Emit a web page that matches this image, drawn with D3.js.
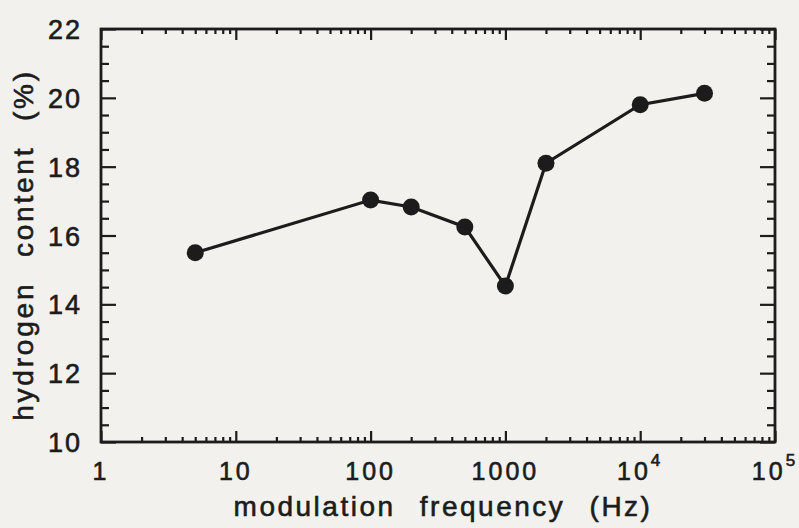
<html>
<head>
<script src="https://cdn.jsdelivr.net/npm/d3@7"></script>
<style>
  body { margin: 0; background: #f2f1ed; }
  text { font-family: "Liberation Sans", Arial, sans-serif; fill: #1c1c1c; stroke: #1c1c1c; stroke-width: 0.6px; }
</style>
</head>
<body>
<svg width="799" height="528"></svg>
<script>
// measured points
var freq = [5, 100, 200, 500, 1000, 2000, 10000, 30000];
var hydrogen = [15.5, 17.03, 16.83, 16.25, 14.53, 18.1, 19.8, 20.13];

var yTicks = [10, 12, 14, 16, 18, 20, 22];
var xTicks = [1, 10, 100, 1000, 10000, 100000];
var xTickLabels = [["1", ""], ["10", ""], ["100", ""], ["1000", ""], ["10", "4"], ["10", "5"]];

var svg = d3.select("svg");
var mLeft = 101, mRight = 775, mTop = 29, mBottom = 442;

var x = d3.scaleLog().domain([1, 1e5]).range([mLeft, mRight]);
var y = d3.scaleLinear().domain([10, 22]).range([mBottom, mTop]);

// minor ticks
var xMinor = [];
for (var dec = 1; dec < 1e5; dec *= 10)
  for (var k = 2; k < 10; k++) xMinor.push(dec * k);
var yMinor = d3.range(10, 22.01, 0.5).filter(function (v) { return v % 2 != 0; });

// frame
svg.append("rect")
  .attr("x", mLeft).attr("y", mTop)
  .attr("width", mRight - mLeft).attr("height", mBottom - mTop)
  .attr("fill", "none").attr("stroke", "#1c1c1c").attr("stroke-width", 2.8);

function ticks(g) {
  g.select(".domain").remove();
  g.selectAll("line").attr("stroke", "#1c1c1c").attr("stroke-width", 2.2);
}

// bottom / top
svg.append("g").attr("transform", "translate(0," + mBottom + ")")
  .call(d3.axisBottom(x).tickValues(xTicks).tickSize(-11).tickFormat("")).call(ticks);
svg.append("g").attr("transform", "translate(0," + mBottom + ")")
  .call(d3.axisBottom(x).tickValues(xMinor).tickSize(-5).tickFormat("")).call(ticks);
svg.append("g").attr("transform", "translate(0," + mTop + ")")
  .call(d3.axisTop(x).tickValues(xTicks).tickSize(-11).tickFormat("")).call(ticks);
svg.append("g").attr("transform", "translate(0," + mTop + ")")
  .call(d3.axisTop(x).tickValues(xMinor).tickSize(-5).tickFormat("")).call(ticks);

// left / right
svg.append("g").attr("transform", "translate(" + mLeft + ",0)")
  .call(d3.axisLeft(y).tickValues(yTicks).tickSize(-15).tickFormat("")).call(ticks);
svg.append("g").attr("transform", "translate(" + mLeft + ",0)")
  .call(d3.axisLeft(y).tickValues(yMinor).tickSize(-8).tickFormat("")).call(ticks);
svg.append("g").attr("transform", "translate(" + mRight + ",0)")
  .call(d3.axisRight(y).tickValues(yTicks).tickSize(-15).tickFormat("")).call(ticks);
svg.append("g").attr("transform", "translate(" + mRight + ",0)")
  .call(d3.axisRight(y).tickValues(yMinor).tickSize(-8).tickFormat("")).call(ticks);

// y tick labels
svg.selectAll(".ylab").data(yTicks).enter().append("text")
  .attr("x", 82).attr("y", function (d) { return y(d) + 10; })
  .attr("text-anchor", "end").style("font-size", "27px")
  .style("letter-spacing", "2px")
  .text(function (d) { return d; });

// x tick labels
var xl = svg.selectAll(".xlab").data(xTicks).enter().append("text")
  .attr("x", function (d) { return x(d); }).attr("y", 480)
  .attr("text-anchor", "middle").style("font-size", "25px")
  .style("letter-spacing", "3px");
xl.append("tspan").text(function (d, i) { return xTickLabels[i][0]; });
xl.append("tspan").attr("dy", -14).style("font-size", "17px")
  .text(function (d, i) { return xTickLabels[i][1]; });

// axis titles
svg.append("text").attr("x", 443).attr("y", 516)
  .attr("text-anchor", "middle").style("font-size", "28px")
  .style("letter-spacing", "2.5px").style("word-spacing", "14px")
  .text("modulation frequency (Hz)");
svg.append("text")
  .attr("transform", "translate(33,245) rotate(-90)")
  .attr("text-anchor", "middle").style("font-size", "28px")
  .style("letter-spacing", "2.8px").style("word-spacing", "14px")
  .text("hydrogen content (%)");

// data
var pts = freq.map(function (f, i) { return [f, hydrogen[i]]; });
svg.append("path").datum(pts)
  .attr("fill", "none").attr("stroke", "#1c1c1c").attr("stroke-width", 3.2)
  .attr("d", d3.line().x(function (d) { return x(d[0]); }).y(function (d) { return y(d[1]); }));
svg.selectAll("circle").data(pts).enter().append("circle")
  .attr("cx", function (d) { return x(d[0]); })
  .attr("cy", function (d) { return y(d[1]); })
  .attr("r", 8.5).attr("fill", "#1c1c1c");
</script>
</body>
</html>
